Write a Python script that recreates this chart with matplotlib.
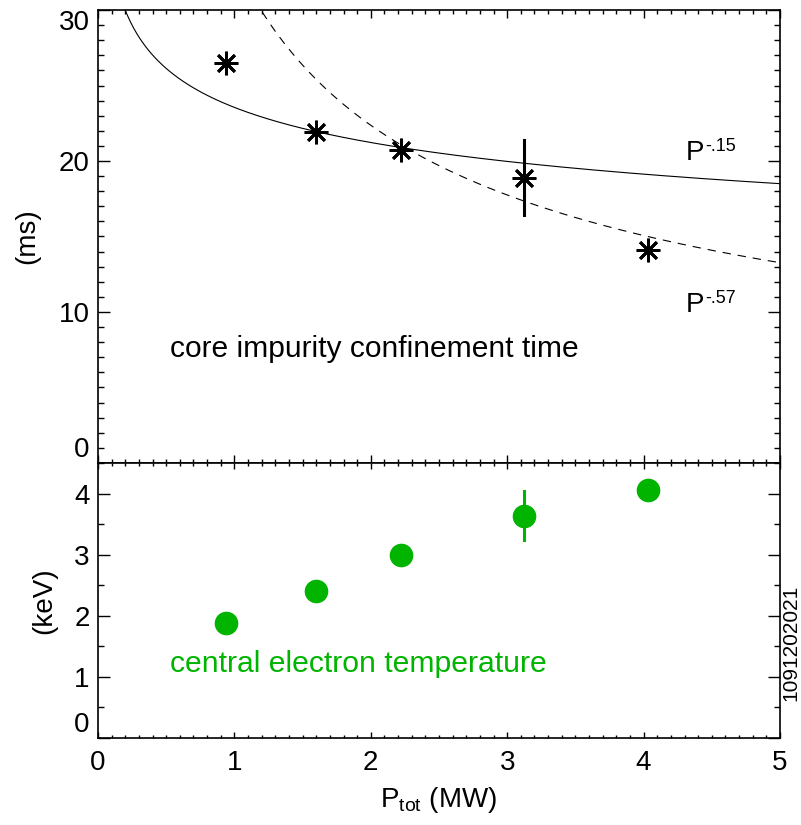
import numpy as np
import matplotlib.pyplot as plt
from matplotlib.ticker import MultipleLocator, FuncFormatter

plt.rcParams['font.family'] = ['Liberation Sans', 'DejaVu Sans']
plt.rcParams['mathtext.fontset'] = 'custom'
plt.rcParams['mathtext.rm'] = 'Liberation Sans'
plt.rcParams['mathtext.it'] = 'Liberation Sans'
plt.rcParams['lines.scale_dashes'] = False

# potencia total y mediciones por disparo
p_tot = [0.94, 1.60, 2.22, 3.12, 4.03]
tau_imp = [26.5, 21.9, 20.7, 18.9, 14.1]      # ms
tau_err = [0.0, 0.0, 0.0, 2.5, 0.0]
te0 = [1.88, 2.41, 2.99, 3.64, 4.06]         # keV
te_err = [0.0, 0.0, 0.0, 0.4, 0.0]

# ajustes de ley de potencia tau = C * P^alfa
alfa_1, coef_1, txt_1 = -0.15, 23.55, '-.15'
alfa_2, coef_2, txt_2 = -0.57, 33.2, '-.57'

verde = '#00b400'

fig = plt.figure(figsize=(8.01, 8.25), dpi=100)
ax1 = fig.add_axes([98/801, 1-463/825, 682/801, 453/825])
ax2 = fig.add_axes([98/801, 1-738/825, 682/801, 275/825])

P = np.linspace(0.05, 5, 400)
ax1.plot(P, coef_1*P**alfa_1, color='black', lw=0.8)
ax1.plot(P, coef_2*P**alfa_2, color='black', lw=0.8, linestyle=(0, (6, 5)))

ax1.plot(p_tot, tau_imp, linestyle='none', marker=(8, 2, 0), markersize=17,
         mew=2.0, color='black')
i = 3
ax1.plot([p_tot[i], p_tot[i]], [tau_imp[i]-tau_err[i], tau_imp[i]+tau_err[i]],
         color='black', lw=2.2)

ax1.text(0.53, 7.0, 'core impurity confinement time', fontsize=21.6, va='baseline')

# P con exponente, el exponente como texto aparte
for y, txt in [(20.07, txt_1), (10.0, txt_2)]:
    ax1.text(4.31, y, 'P', fontsize=20, va='baseline')
    ax1.annotate(txt, xy=(4.31, y), xytext=(13.6, 6.5), textcoords='offset points',
                 fontsize=13, va='baseline')

ax2.plot([p_tot[i], p_tot[i]], [te0[i]-te_err[i], te0[i]+te_err[i]],
         color=verde, lw=2.2)
ax2.plot(p_tot, te0, linestyle='none', marker='o', markersize=16, color=verde,
         mec=verde)
ax2.text(0.53, 1.08, 'central electron temperature', fontsize=21.7,
         va='baseline', color=verde)

for ax in (ax1, ax2):
    ax.set_xlim(0, 5)
    ax.xaxis.set_major_locator(MultipleLocator(1))
    ax.xaxis.set_minor_locator(MultipleLocator(0.1))
    ax.tick_params(which='both', direction='in', top=True, right=True,
                   labelsize=20, width=1.0)
    ax.tick_params(axis='y', which='major', length=8.6, pad=6)
    ax.tick_params(axis='y', which='minor', length=4.3)
    ax.tick_params(axis='x', which='major', pad=9)
    for s in ax.spines.values():
        s.set_linewidth(1.2)


def sin_extremos(lo, hi):
    # las etiquetas de los extremos se ponen a mano, corridas hacia adentro
    def f(v, pos):
        if np.isclose(v, lo) or np.isclose(v, hi):
            return ''
        return '%d' % round(v)
    return FuncFormatter(f)


def etiqueta_extremo(ax, v, va):
    ax.annotate('%d' % v, xy=(0, v), xycoords=('axes fraction', 'data'),
                xytext=(-6, 0), textcoords='offset points', fontsize=20,
                ha='right', va=va)


ax1.set_ylim(0, 30)
ax1.yaxis.set_major_locator(MultipleLocator(10))
ax1.yaxis.set_minor_locator(MultipleLocator(1))
ax1.yaxis.set_major_formatter(sin_extremos(0, 30))
etiqueta_extremo(ax1, 0, 'bottom')
etiqueta_extremo(ax1, 30, 'top')
ax1.tick_params(axis='x', which='major', length=5.8, labelbottom=False)
ax1.tick_params(axis='x', which='minor', length=2.9)
ax1.set_ylabel('(ms)', fontsize=20)
ax1.yaxis.set_label_coords(-0.085, 0.5)

ax2.set_ylim(0, 4.5)
ax2.yaxis.set_major_locator(MultipleLocator(1))
ax2.yaxis.set_minor_locator(MultipleLocator(0.5))
ax2.yaxis.set_major_formatter(sin_extremos(0, 99))
etiqueta_extremo(ax2, 0, 'bottom')
ax2.tick_params(axis='x', which='major', length=4.0)
ax2.tick_params(axis='x', which='minor', length=2.2)
ax2.set_ylabel('(keV)', fontsize=20)
ax2.yaxis.set_label_coords(-0.060, 0.5)
ax2.set_xlabel(r'P$_{\mathregular{tot}}$ (MW)', fontsize=20, labelpad=6)

fig.text(791/801, 1-643/825, '1091202021', rotation=90, fontsize=15,
         ha='center', va='center')

fig.savefig('out.png', dpi=100)
